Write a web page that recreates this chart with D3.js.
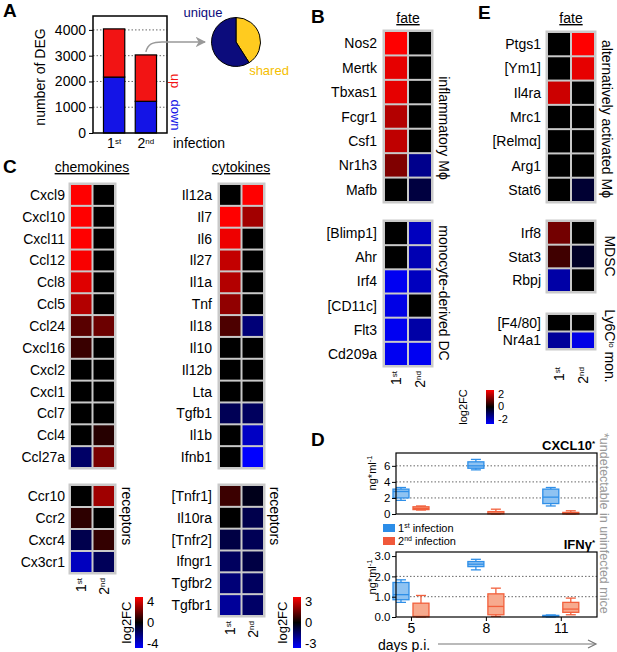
<!DOCTYPE html>
<html>
<head>
<meta charset="utf-8">
<script src="https://cdn.jsdelivr.net/npm/d3@7"></script>
<style>
body { margin: 0; background: #fff; }
svg { display: block; }
text { font-family: "Liberation Sans", Arial, sans-serif; }
</style>
</head>
<body>
<svg id="fig" width="617" height="652"></svg>
<script>
const degInfection = ['1st', '2nd']
const degDown = [2170, 1230]
const degUp = [1870, 1800]
const degTicks = [0, 1000, 2000, 3000, 4000]
const pieLabels = ['shared', 'unique']
const pieValues = [41, 59]

const chemoGenes = ['Cxcl9', 'Cxcl10', 'Cxcl11', 'Ccl12', 'Ccl8', 'Ccl5', 'Ccl24', 'Cxcl16', 'Cxcl2', 'Cxcl1', 'Ccl7', 'Ccl4', 'Ccl27a']
const chemo1st = [4, 4, 4, 3.9, 3.5, 2.8, 1.4, 0.9, 0, 0, 0, 0, -1.6]
const chemo2nd = [0, 0, 0, 0, 0, 0, 1.7, 0, 0, 0, 0, 0.6, 1.9]
const chemoRecGenes = ['Ccr10', 'Ccr2', 'Cxcr4', 'Cx3cr1']
const chemoRec1st = [0, 0.7, -1.2, -3.0]
const chemoRec2nd = [2.5, 0, 0.8, -1.4]

const cytoGenes = ['Il12a', 'Il7', 'Il6', 'Il27', 'Il1a', 'Tnf', 'Il18', 'Il10', 'Il12b', 'Lta', 'Tgfb1', 'Il1b', 'Ifnb1']
const cyto1st = [0, 3, 2.8, 2.3, 2.1, 1.7, 0.9, 0, 0, 0, -1.0, 0, 0]
const cyto2nd = [3, 1.9, 0, 0, 0, 0, -1.4, 0, 0, 0, -1.1, -2.3, -3]
const cytoRecGenes = ['[Tnfr1]', 'Il10ra', '[Tnfr2]', 'Ifngr1', 'Tgfbr2', 'Tgfbr1']
const cytoRec1st = [0.7, 0, -0.8, -1.1, -1.4, -1.8]
const cytoRec2nd = [-0.3, -0.9, -1.0, -0.8, -1.1, -1.2]

const inflGenes = ['Nos2', 'Mertk', 'Tbxas1', 'Fcgr1', 'Csf1', 'Nr1h3', 'Mafb']
const infl1st = [2, 1.8, 1.8, 1.4, 1.5, 1.0, 0]
const infl2nd = [0, 0, 0, 0, 0, -1.1, -0.5]
const dcGenes = ['[Blimp1]', 'Ahr', 'Irf4', '[CD11c]', 'Flt3', 'Cd209a']
const dc1st = [0, 0, -1.9, -1.8, -1.9, -1.9]
const dc2nd = [-1.5, -1.4, -1.5, 0, -1.3, -1.9]

const altGenes = ['Ptgs1', '[Ym1]', 'Il4ra', 'Mrc1', '[Relmα]', 'Arg1', 'Stat6']
const alt1st = [0, 0, 1.6, 0, 0, 0, 0]
const alt2nd = [2, 1.8, 0, 0, 0, 0, -0.4]
const mdscGenes = ['Irf8', 'Stat3', 'Rbpj']
const mdsc1st = [0.9, 0.5, -1.3]
const mdsc2nd = [0, -0.3, 0]
const monGenes = ['[F4/80]', 'Nr4a1']
const mon1st = [0, -1.2]
const mon2nd = [0, -1.8]

// box stats: [min, q1, median, q3, max]
const days = [5, 8, 11]
const cxcl10First = [[1.7, 2.0, 2.8, 3.1, 3.3], [5.5, 5.7, 6.0, 6.5, 6.8], [1.0, 1.3, 2.1, 3.1, 3.3]]
const cxcl10Second = [[0.5, 0.55, 0.7, 0.9, 1.0], [0, 0.02, 0.1, 0.3, 0.6], [0, 0.02, 0.05, 0.2, 0.4]]
const ifngFirst = [[0.72, 0.85, 1.1, 1.7, 1.83], [2.32, 2.48, 2.6, 2.73, 2.84], [0, 0.02, 0.05, 0.08, 0.1]]
const ifngSecond = [[0, 0.01, 0.03, 0.68, 1.06], [0.03, 0.11, 0.52, 1.14, 1.42], [0.11, 0.23, 0.39, 0.72, 0.93]]
const cxclTicks = [0, 2, 4, 6]
const ifngTicks = [0, 1, 2, 3]

const svg = d3.select('#fig')
const defs = svg.append('defs')

const grad = defs.append('linearGradient').attr('id', 'lfc').attr('x1', 0).attr('y1', 0).attr('x2', 0).attr('y2', 1)
grad.append('stop').attr('offset', 0).attr('stop-color', '#ff0000')
grad.append('stop').attr('offset', 0.5).attr('stop-color', '#000000')
grad.append('stop').attr('offset', 1).attr('stop-color', '#0000ff')

defs.append('marker').attr('id', 'arrA').attr('viewBox', '0 0 10 10').attr('refX', 9).attr('refY', 5)
    .attr('markerWidth', 7).attr('markerHeight', 7).attr('orient', 'auto')
    .append('path').attr('d', 'M0,0 L10,5 L0,10 L3,5z').attr('fill', '#999')

const sup = (sel, base, s, rest, size) => {
    sel.append('tspan').text(base)
    sel.append('tspan').text(s).attr('font-size', size).attr('baseline-shift', '55%')
    if (rest) sel.append('tspan').text(rest)
    return sel
}

const panelLetter = (t, x, y) => svg.append('text').text(t).attr('x', x).attr('y', y)
    .attr('font-size', 19).attr('font-weight', 'bold')

const vText = (txt, cx, cy, size, angle, color) => svg.append('text').text(txt)
    .attr('transform', `translate(${cx + (angle < 0 ? size * 0.36 : -size * 0.36)},${cy}) rotate(${angle})`)
    .attr('text-anchor', 'middle').attr('font-size', size).attr('fill', color || '#000')

// ---------- A ----------
panelLetter('A', 3, 17)
const yA = d3.scaleLinear().domain([0, 4540]).range([133, 16])
const xA = d3.scaleBand().domain(degInfection).range([93, 167]).paddingInner(0.33).paddingOuter(0.33)

svg.append('g').selectAll('line').data(degTicks.slice(1)).join('line')
    .attr('x1', 93).attr('x2', 167).attr('y1', d => yA(d)).attr('y2', d => yA(d))
    .attr('stroke', '#666').attr('stroke-dasharray', '1.5,2')

const degData = degInfection.map((k, i) => ({ k, down: degDown[i], up: degUp[i] }))
const stacked = d3.stack().keys(['down', 'up'])(degData)
const barColor = { down: '#1414e6', up: '#f21414' }
svg.append('g').selectAll('g').data(stacked).join('g').attr('fill', d => barColor[d.key])
    .selectAll('rect').data(d => d).join('rect')
    .attr('x', d => xA(d.data.k)).attr('width', xA.bandwidth())
    .attr('y', d => yA(d[1])).attr('height', d => yA(d[0]) - yA(d[1]))
    .attr('stroke', '#000').attr('stroke-width', 1.2)

svg.append('rect').attr('x', 93).attr('y', 16).attr('width', 74).attr('height', 117)
    .attr('fill', 'none').attr('stroke', '#000').attr('stroke-width', 1.5)

const axA = svg.append('g').attr('transform', 'translate(93,0)')
    .call(d3.axisLeft(yA).tickValues(degTicks).tickSize(4).tickFormat(d3.format('d')))
axA.select('.domain').remove()
axA.selectAll('text').attr('font-size', 14).attr('font-family', '"Liberation Sans", Arial, sans-serif')

vText('number of DEG', 40, 77, 14, -90)
vText('up', 176, 81, 13, 90, '#f21414')
vText('down', 176, 115, 13, 90, '#1414e6')

degInfection.forEach(c => {
    sup(svg.append('text').attr('x', xA(c) + xA.bandwidth() / 2).attr('y', 148)
        .attr('text-anchor', 'middle').attr('font-size', 14), c[0], c.slice(1), null, 8)
})
svg.append('text').text('infection').attr('x', 173).attr('y', 148).attr('font-size', 14)

const pie = d3.pie().sort(null)(pieValues)
const arcA = d3.arc().innerRadius(0).outerRadius(24.5)
const pieColor = { shared: '#ffcb1f', unique: '#0c0c7c' }
svg.append('g').attr('transform', 'translate(236,42)').selectAll('path').data(pie).join('path')
    .attr('d', arcA).attr('fill', (d, i) => pieColor[pieLabels[i]]).attr('stroke', '#000').attr('stroke-width', 1)
svg.append('text').text('unique').attr('x', 203).attr('y', 17).attr('text-anchor', 'middle')
    .attr('font-size', 13).attr('fill', '#0c0c7c')
svg.append('text').text('shared').attr('x', 269).attr('y', 75).attr('text-anchor', 'middle')
    .attr('font-size', 13).attr('fill', '#f5c000')

const ax0 = xA('2nd') + xA.bandwidth() / 2
const ay0 = yA(degDown[1] + degUp[1]) - 3
svg.append('path').attr('d', `M${ax0},${ay0} C${ax0 + 2},${ay0 - 8} ${ax0 + 7},${ay0 - 10} ${ax0 + 16},${ay0 - 10} L205,${ay0 - 10}`)
    .attr('fill', 'none').attr('stroke', '#999').attr('stroke-width', 1.5).attr('marker-end', 'url(#arrA)')

// ---------- heatmaps ----------
const heat = (genes, v1, v2, x0, w, top, bottom, max, labelX) => {
    const x = d3.scaleBand().domain(degInfection).range([x0, x0 + 2 * w])
    const y = d3.scaleBand().domain(genes).range([top, bottom])
    const color = d3.scaleLinear().domain([-max, 0, max]).range(['#0000ff', '#000000', '#ff0000'])
    const cells = genes.flatMap((g, i) => [{ g, c: '1st', v: v1[i] }, { g, c: '2nd', v: v2[i] }])
    svg.append('rect').attr('x', x0 - 1.5).attr('y', top - 1.5).attr('width', 2 * w + 3)
        .attr('height', bottom - top + 3).attr('fill', '#c9c9c9')
    svg.append('g').selectAll('rect').data(cells).join('rect')
        .attr('x', d => x(d.c) + 1).attr('y', d => y(d.g) + 1)
        .attr('width', x.bandwidth() - 2).attr('height', y.bandwidth() - 2)
        .attr('fill', d => color(d.v))
    svg.append('g').selectAll('text').data(genes).join('text')
        .attr('x', labelX).attr('y', d => y(d) + y.bandwidth() / 2 + 5)
        .attr('text-anchor', 'end').attr('font-size', 14).text(d => d)
    return x
}

const colLabels = (x, yEnd) => degInfection.forEach(c => {
    sup(svg.append('text').attr('transform', `translate(${x(c) + x.bandwidth() / 2 + 5},${yEnd}) rotate(-90)`)
        .attr('text-anchor', 'end').attr('font-size', 14), c[0], c.slice(1), null, 8)
})

const colorBar = (x, top, h, max, fs, logX) => {
    svg.append('rect').attr('x', x).attr('y', top).attr('width', 8).attr('height', h).attr('fill', 'url(#lfc)')
    const s = d3.scaleLinear().domain([max, -max]).range([top + 4, top + h - 5])
    svg.append('g').selectAll('text').data([max, 0, -max]).join('text')
        .attr('x', x + 12).attr('y', d => s(d) + fs * 0.36).attr('font-size', fs).text(d => d)
    vText('log2FC', logX, top + h / 2, fs, -90)
}

const underline = (t, x, y) => svg.append('text').text(t).attr('x', x).attr('y', y)
    .attr('text-anchor', 'middle').attr('font-size', 14).attr('text-decoration', 'underline')

// C
panelLetter('C', 3, 173)
underline('chemokines', 92, 172)
underline('cytokines', 241, 172)
const xC1 = heat(chemoGenes, chemo1st, chemo2nd, 70, 22.5, 184, 468, 4, 65)
heat(chemoRecGenes, chemoRec1st, chemoRec2nd, 70, 22.5, 485, 573, 4, 65)
colLabels(xC1, 578)
vText('receptors', 127, 516, 14, 90)
const xC2 = heat(cytoGenes, cyto1st, cyto2nd, 219, 22.5, 184, 468, 3, 212)
heat(cytoRecGenes, cytoRec1st, cytoRec2nd, 219, 22.5, 485, 616, 3, 212)
colLabels(xC2, 621)
vText('receptors', 275, 516, 14, 90)
colorBar(135, 597, 51, 4, 13, 126)
colorBar(293, 597, 51, 3, 13, 282)

// B
panelLetter('B', 311, 23)
underline('fate', 408, 23)
const xB = heat(inflGenes, infl1st, infl2nd, 384, 24, 31, 202, 2, 377)
heat(dcGenes, dc1st, dc2nd, 384, 24, 221, 366, 2, 377)
colLabels(xB, 371)
vText('inflammatory Mϕ', 444, 128, 14, 90)
vText('monocyte-derived DC', 444, 293, 14, 90)

// E
panelLetter('E', 478, 19)
underline('fate', 571, 23)
const xE = heat(altGenes, alt1st, alt2nd, 547, 24, 32, 202, 2, 541)
heat(mdscGenes, mdsc1st, mdsc2nd, 547, 24, 221, 292, 2, 541)
heat(monGenes, mon1st, mon2nd, 547, 24, 314, 349, 2, 541)
colLabels(xE, 367)
vText('alternatively activated Mϕ', 607, 119, 14, 90)
vText('MDSC', 610, 256, 14, 90)
const ly6 = svg.append('text').attr('transform', 'translate(605,346) rotate(90)')
    .attr('text-anchor', 'middle').attr('font-size', 14)
sup(ly6, 'Ly6C', 'lo', ' mon.', 8)
colorBar(486, 390, 34, 2, 11, 463)

// ---------- D ----------
panelLetter('D', 311, 446)
const xD = d3.scaleLinear().domain([4.4, 12.45]).range([396, 597])
const yU = d3.scaleLinear().domain([0, 7.6]).range([514, 453])
const yL = d3.scaleLinear().domain([0, 3.2]).range([617, 552])
const blue = { stroke: '#2f8fe8', fill: '#8fc3f2', solid: '#2b8de8' }
const red = { stroke: '#f2603c', fill: '#f7aa8e', solid: '#f0583a' }

const boxPlot = (y, stats, off, col) => {
    const g = svg.append('g').selectAll('g').data(stats).join('g')
        .attr('transform', (d, i) => `translate(${xD(days[i]) + off},0)`)
        .attr('stroke', col.stroke).attr('stroke-width', 1.3)
    g.append('line').attr('y1', d => y(d[0])).attr('y2', d => y(d[4]))
    g.append('line').attr('x1', -5).attr('x2', 5).attr('y1', d => y(d[0])).attr('y2', d => y(d[0]))
    g.append('line').attr('x1', -5).attr('x2', 5).attr('y1', d => y(d[4])).attr('y2', d => y(d[4]))
    g.append('rect').attr('x', -8).attr('width', 16).attr('y', d => y(d[3]))
        .attr('height', d => Math.max(y(d[1]) - y(d[3]), 1)).attr('fill', col.fill)
    g.append('line').attr('x1', -8).attr('x2', 8).attr('y1', d => y(d[2])).attr('y2', d => y(d[2]))
}

const dPanel = (y, ticks, grid, top, bottom, first, second, title, labelY) => {
    svg.append('g').selectAll('line').data(grid).join('line')
        .attr('x1', 396).attr('x2', 597).attr('y1', d => y(d)).attr('y2', d => y(d))
        .attr('stroke', '#666').attr('stroke-dasharray', '1.5,2')
    boxPlot(y, first, -10, blue)
    boxPlot(y, second, 10, red)
    svg.append('rect').attr('x', 396).attr('y', top).attr('width', 201).attr('height', bottom - top)
        .attr('fill', 'none').attr('stroke', '#000').attr('stroke-width', 1.2)
    const ax = svg.append('g').attr('transform', 'translate(396,0)')
        .call(d3.axisLeft(y).tickValues(ticks).tickSize(4).tickPadding(1.5))
    ax.select('.domain').remove()
    ax.selectAll('text').attr('font-size', 11.5).attr('font-family', '"Liberation Sans", Arial, sans-serif')
    sup(svg.append('text').attr('x', 595).attr('y', top - 3).attr('text-anchor', 'end')
        .attr('font-size', 13).attr('font-weight', 'bold'), title, '*', null, 8)
    sup(svg.append('text').attr('transform', `translate(376,${labelY}) rotate(-90)`)
        .attr('text-anchor', 'middle').attr('font-size', 11), 'ng*ml', '-1', null, 7.5)
}

dPanel(yU, cxclTicks, [2, 4, 6], 453, 514, cxcl10First, cxcl10Second, 'CXCL10', 473)
dPanel(yL, ifngTicks, [1, 2], 552, 617, ifngFirst, ifngSecond, 'IFNγ', 577)

const axD = svg.append('g').attr('transform', 'translate(0,617)')
    .call(d3.axisBottom(xD).tickValues(days).tickSize(4).tickPadding(2))
axD.select('.domain').remove()
axD.selectAll('text').attr('font-size', 14).attr('font-family', '"Liberation Sans", Arial, sans-serif')

const legend = [['1', 'st', blue], ['2', 'nd', red]]
legend.forEach(([a, b, col], i) => {
    svg.append('rect').attr('x', 383).attr('y', 524 + i * 13).attr('width', 12).attr('height', 8).attr('fill', col.solid)
    sup(svg.append('text').attr('x', 398).attr('y', 532 + i * 13).attr('font-size', 11), a, b, ' infection', 7)
})

svg.append('text').text('days p.i.').attr('x', 378).attr('y', 650).attr('font-size', 14)
svg.append('line').attr('x1', 438).attr('x2', 595).attr('y1', 644).attr('y2', 644).attr('stroke', '#777').attr('stroke-width', 1.2)
svg.append('path').attr('d', 'M588,640 L596,644 L588,648').attr('fill', 'none').attr('stroke', '#777').attr('stroke-width', 1.2)

svg.append('text').text('*undetectable in uninfected mice')
    .attr('transform', 'translate(600,433) rotate(90)').attr('font-size', 12.5).attr('fill', '#999')
</script>
</body>
</html>
